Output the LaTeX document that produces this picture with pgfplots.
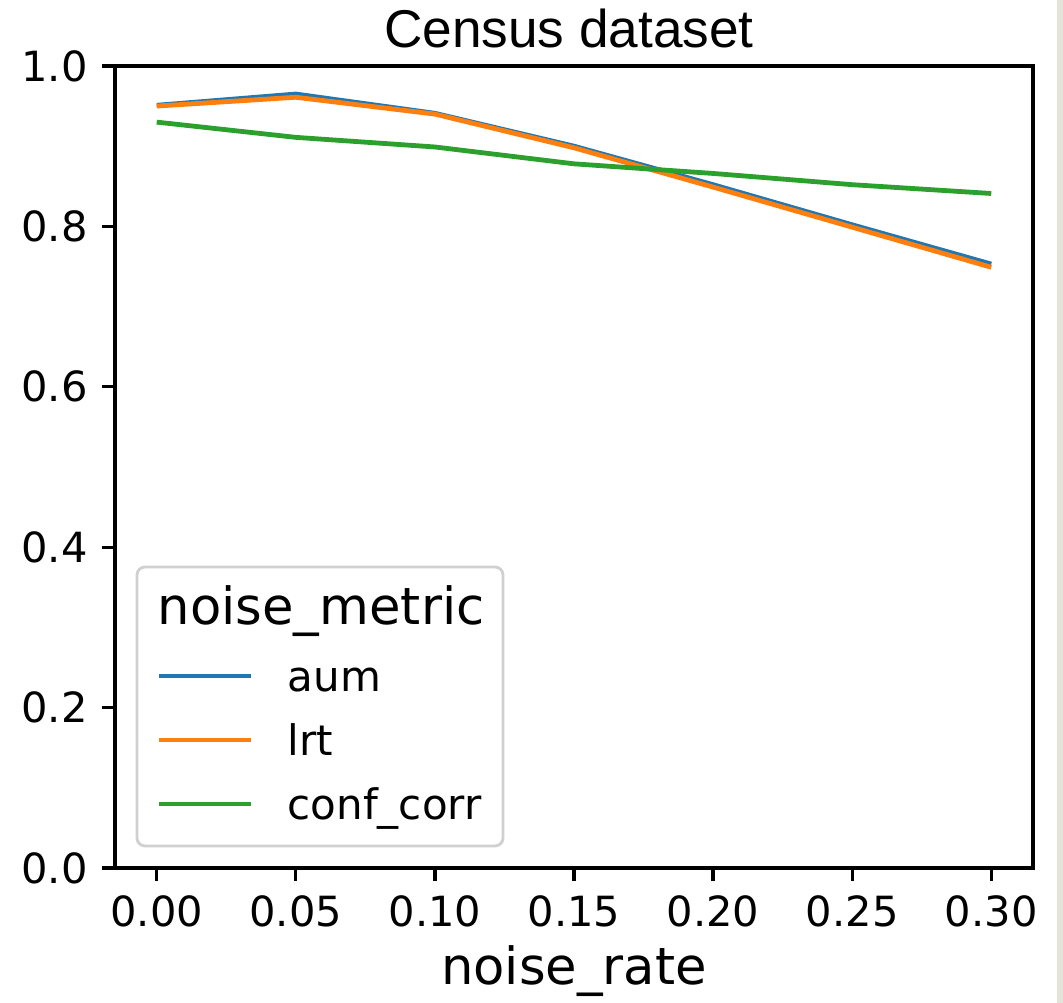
\documentclass[border=0pt]{standalone}
\usepackage{pgfplots}
\pgfplotsset{compat=1.18}
\usepackage{fontspec}
\setmainfont{DejaVu Sans}
\newfontfamily\titlefont{Liberation Sans}
\definecolor{tabblue}{HTML}{1F77B4}
\definecolor{taborange}{HTML}{FF7F0E}
\definecolor{tabgreen}{HTML}{2CA02C}
\definecolor{stripgrey}{HTML}{E3E3DA}
\definecolor{legendgrey}{HTML}{D0D0D0}

\pgfplotstableread{
x      aum    lrt    conf
0.00   0.951  0.950  0.930
0.05   0.965  0.961  0.911
0.10   0.941  0.940  0.899
0.15   0.900  0.898  0.878
0.20   0.852  0.849  0.866
0.25   0.802  0.799  0.852
0.30   0.753  0.749  0.841
}\datatable

\begin{document}
\begin{tikzpicture}[x=1pt,y=1pt]
\path[use as bounding box] (-28.75,-33.75) rectangle (237,217);
\fill[stripgrey] (235.5,-33.75) rectangle (237,217);
% legend frame and title
\draw[draw=legendgrey, fill=white, rounded corners=2pt, line width=0.7pt] (5.5,5.5) rectangle (97,75.25);
\node[anchor=base west, inner sep=0pt, font=\fontsize{12.8}{15}\selectfont] at (10.5,60.75) {noise\_metric};
\begin{axis}[
  at={(0,0)}, anchor=south west,
  width=229.5pt, height=200.5pt, scale only axis,
  xmin=-0.015, xmax=0.315, ymin=0, ymax=1,
  xtick={0,0.05,0.1,0.15,0.2,0.25,0.3},
  ytick={0,0.2,0.4,0.6,0.8,1.0},
  tick pos=left,
  tick align=outside,
  major tick length=3.3pt,
  tick style={line width=0.8pt, black},
  axis line style={line width=0.85pt},
  /pgf/number format/assume math mode=true,
  ticklabel style={font=\fontsize{10.4}{12}\selectfont},
  xticklabel style={/pgf/number format/fixed, /pgf/number format/fixed zerofill, /pgf/number format/precision=2},
  yticklabel style={/pgf/number format/fixed, /pgf/number format/fixed zerofill, /pgf/number format/precision=1},
  xlabel={noise\_rate},
  xlabel style={font=\fontsize{12.8}{15}\selectfont, at={(axis description cs:0.5,0)}, anchor=base, yshift=-29.25pt, inner sep=0pt},
  legend style={draw=none, fill=none, inner sep=0pt, outer sep=0pt,
    at={(axis description cs:0.0453,0.2594)}, anchor=north west,
    nodes={inner sep=0pt, text height=8pt, text depth=3pt, anchor=base west,
      font=\fontsize{10.5}{12}\selectfont},
    row sep=5pt, column sep=8.6pt},
  legend cell align=left,
  legend image code/.code={\draw[#1] (0pt,4pt) -- (23pt,4pt);},
]
\addplot[tabblue, line width=1.2pt] table[x=x, y=aum] {\datatable};
\addlegendentry{aum}
\addplot[taborange, line width=1.2pt] table[x=x, y=lrt] {\datatable};
\addlegendentry{lrt}
\addplot[tabgreen, line width=1.2pt] table[x=x, y=conf] {\datatable};
\addlegendentry{conf\_corr}
\end{axis}
\node[anchor=base, inner sep=0pt] at (113.5,205) {\titlefont\fontsize{13.3}{16}\selectfont Census dataset};
\end{tikzpicture}
\end{document}
